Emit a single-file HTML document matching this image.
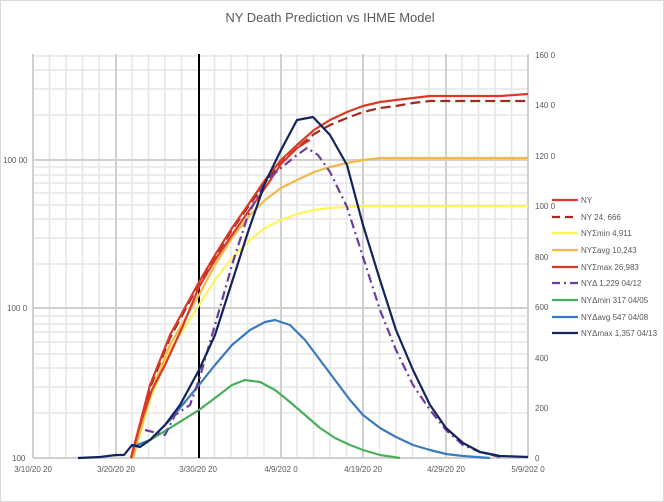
<!DOCTYPE html><html><head><style>body{margin:0;background:#fff}svg{display:block;font-family:"Liberation Sans",sans-serif}</style></head><body>
<svg width="664" height="502" viewBox="0 0 664 502">
<rect x="0.5" y="0.5" width="663" height="501" fill="#fff" stroke="#d9d9d9"/>
<text x="330" y="22" font-size="13" fill="#595959" text-anchor="middle">NY Death Prediction vs IHME Model</text>
<g stroke="#e6e6e6" stroke-width="1.5">
<line x1="49.5" y1="54" x2="49.5" y2="458"/><line x1="66" y1="54" x2="66" y2="458"/><line x1="82.5" y1="54" x2="82.5" y2="458"/><line x1="99" y1="54" x2="99" y2="458"/>
<line x1="132" y1="54" x2="132" y2="458"/><line x1="148.5" y1="54" x2="148.5" y2="458"/><line x1="165" y1="54" x2="165" y2="458"/><line x1="181.5" y1="54" x2="181.5" y2="458"/>
<line x1="214.5" y1="54" x2="214.5" y2="458"/><line x1="231" y1="54" x2="231" y2="458"/><line x1="247.5" y1="54" x2="247.5" y2="458"/><line x1="264" y1="54" x2="264" y2="458"/>
<line x1="297" y1="54" x2="297" y2="458"/><line x1="313.5" y1="54" x2="313.5" y2="458"/><line x1="330" y1="54" x2="330" y2="458"/><line x1="346.5" y1="54" x2="346.5" y2="458"/>
<line x1="379.5" y1="54" x2="379.5" y2="458"/><line x1="396" y1="54" x2="396" y2="458"/><line x1="412.5" y1="54" x2="412.5" y2="458"/><line x1="429" y1="54" x2="429" y2="458"/>
<line x1="462" y1="54" x2="462" y2="458"/><line x1="478.5" y1="54" x2="478.5" y2="458"/><line x1="495" y1="54" x2="495" y2="458"/><line x1="511.5" y1="54" x2="511.5" y2="458"/>
<line x1="33" y1="413" x2="528" y2="413"/><line x1="33" y1="387" x2="528" y2="387"/><line x1="33" y1="368" x2="528" y2="368"/><line x1="33" y1="354" x2="528" y2="354"/><line x1="33" y1="342" x2="528" y2="342"/><line x1="33" y1="332" x2="528" y2="332"/><line x1="33" y1="324" x2="528" y2="324"/><line x1="33" y1="316" x2="528" y2="316"/>
<line x1="33" y1="264" x2="528" y2="264"/><line x1="33" y1="238" x2="528" y2="238"/><line x1="33" y1="219" x2="528" y2="219"/><line x1="33" y1="205" x2="528" y2="205"/><line x1="33" y1="193" x2="528" y2="193"/><line x1="33" y1="183" x2="528" y2="183"/><line x1="33" y1="175" x2="528" y2="175"/><line x1="33" y1="167" x2="528" y2="167"/>
<line x1="33" y1="115" x2="528" y2="115"/><line x1="33" y1="89" x2="528" y2="89"/><line x1="33" y1="70" x2="528" y2="70"/><line x1="33" y1="56" x2="528" y2="56"/>
</g>
<g stroke="#d0d0d0" stroke-width="2">
<line x1="116" y1="54" x2="116" y2="458"/><line x1="281" y1="54" x2="281" y2="458"/><line x1="363" y1="54" x2="363" y2="458"/><line x1="446" y1="54" x2="446" y2="458"/>
<line x1="33" y1="308" x2="528" y2="308"/><line x1="33" y1="160" x2="528" y2="160"/>
<line x1="33" y1="54" x2="33" y2="458"/><line x1="528" y1="54" x2="528" y2="458"/><line x1="33" y1="458" x2="528" y2="458"/>
</g>
<line x1="199" y1="54" x2="199" y2="458" stroke="#000" stroke-width="2"/>
<g font-size="8" fill="#595959">
<text x="3" y="163">100 00</text><text x="7" y="311">100 0</text><text x="12" y="461">100</text>
<g text-anchor="start"><text x="535" y="58">160 0</text><text x="535" y="108">140 0</text><text x="535" y="159">120 0</text><text x="535" y="209">100 0</text><text x="535" y="260">800</text><text x="535" y="310">600</text><text x="535" y="361">400</text><text x="535" y="411">200</text><text x="535" y="461">0</text></g>
<g text-anchor="middle"><text x="33" y="472">3/10/20 20</text><text x="116" y="472">3/20/20 20</text><text x="198" y="472">3/30/20 20</text><text x="281" y="472">4/9/202 0</text><text x="363" y="472">4/19/20 20</text><text x="446" y="472">4/29/20 20</text><text x="528" y="472">5/9/202 0</text></g>
</g>
<g fill="none" stroke-width="2.2" stroke-linejoin="round">
<polyline stroke="#fff35c" points="133,458 150,400 170,350 199,305 215,280 232,258 250,240 265,228 281,220 297,214 314,210 330,208 347,207 363,206 528,206"/>
<polyline stroke="#f0b94a" points="133,458 150,395 170,345 199,295 215,265 232,238 250,215 265,200 281,188 297,180 314,172 330,167 347,163 363,160 380,158 528,158"/>
<polyline stroke="#a52a1e" stroke-dasharray="10,5" points="131,458 150,388 170,338 199,284 215,257 232,230 248,207 265,183 281,163 297,148 314,134 330,125 347,118 363,112 380,108 396,106 413,103 430,101 528,101"/>
<polyline stroke="#d93a26" points="131,458 150,385 170,335 199,282 215,255 232,228 248,205 265,180 281,160 297,145 314,130 330,120 347,112 363,106 380,102 396,100 413,98 430,96 500,96 528,94"/>
<polyline stroke="#d93a26" points="131,458 140,425 152,390 165,365 182,328 199,287 215,260 232,235 248,212 265,188 281,164 297,148 310,140"/>
<polyline stroke="#48b05a" points="132,447 150,440 170,428 199,410 215,398 232,385 245,380 260,382 275,390 290,402 305,415 320,428 335,438 350,445 363,450 380,455 400,458"/>
<polyline stroke="#3a7ac0" points="132,447 150,440 170,420 199,385 215,365 232,345 250,330 265,322 275,320 290,325 305,340 320,360 335,380 350,400 363,415 380,428 396,437 413,445 430,450 446,454 463,456 490,458"/>
<polyline stroke="#6a3e9a" stroke-dasharray="9,4,2,4" points="145,430 165,435 175,415 190,405 199,380 215,325 232,265 248,215 265,182 281,168 297,155 307,148 318,155 330,172 347,207 363,257 380,310 396,350 413,385 430,410 446,430 463,445 480,452 500,457"/>
<polyline stroke="#13235e" points="78,458 100,457 116,455 124,455 132,445 140,447 150,440 165,425 180,405 199,370 215,335 232,282 248,232 265,183 281,150 297,120 313,117 330,135 347,165 363,225 380,280 396,330 413,370 430,405 446,428 463,443 480,452 500,456 528,457"/>
</g>
<g stroke-width="2.2">
<line x1="552" y1="200" x2="578" y2="200" stroke="#d93a26"/>
<line x1="552" y1="217" x2="578" y2="217" stroke="#a52a1e" stroke-dasharray="8,5"/>
<line x1="552" y1="233" x2="578" y2="233" stroke="#fff35c"/>
<line x1="552" y1="250" x2="578" y2="250" stroke="#f0b94a"/>
<line x1="552" y1="267" x2="578" y2="267" stroke="#d93a26"/>
<line x1="552" y1="283" x2="578" y2="283" stroke="#6a3e9a" stroke-dasharray="8,4,2,4"/>
<line x1="552" y1="300" x2="578" y2="300" stroke="#48b05a"/>
<line x1="552" y1="317" x2="578" y2="317" stroke="#3a7ac0"/>
<line x1="552" y1="333" x2="578" y2="333" stroke="#13235e"/>
</g>
<g font-size="8" fill="#595959">
<text x="581" y="203">NY</text><text x="581" y="220">NY 24, 666</text><text x="581" y="236">NYΣmin 4,911</text><text x="581" y="253">NYΣavg 10,243</text><text x="581" y="270">NYΣmax 26,983</text><text x="581" y="286">NYΔ 1,229 04/12</text><text x="581" y="303">NYΔmin 317 04/05</text><text x="581" y="320">NYΔavg 547 04/08</text><text x="581" y="336">NYΔmax 1,357 04/13</text>
</g>
</svg></body></html>
